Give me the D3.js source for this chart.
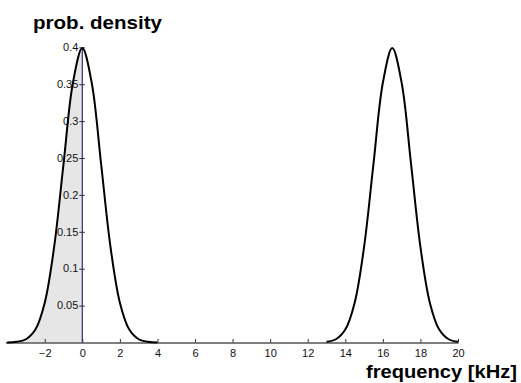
<!DOCTYPE html>
<html>
<head>
<meta charset="utf-8">
<script src="https://cdn.jsdelivr.net/npm/d3@7"></script>
<style>
  body { margin: 0; background: #fff; }
  text { font-family: "Liberation Sans", Arial, Helvetica, sans-serif; }
</style>
</head>
<body>
<div id="chart"></div>
<script>
const leftX = [-4, -3.5, -3, -2.5, -2, -1.5, -1, -0.5, 0, 0.5, 1, 1.5, 2, 2.5, 3, 3.5, 4];
const leftY = [0.0001, 0.0009, 0.0044, 0.0175, 0.054, 0.1295, 0.242, 0.352, 0.399,
  0.352, 0.242, 0.1295, 0.054, 0.0175, 0.0044, 0.0009, 0.0001];
const rightX = [13, 13.5, 14, 14.5, 15, 15.5, 16, 16.5, 17, 17.5, 18, 18.5, 19, 19.5, 20];
const rightY = [0.0009, 0.0044, 0.0175, 0.054, 0.1295, 0.242, 0.352, 0.399,
  0.352, 0.242, 0.1295, 0.054, 0.0175, 0.0044, 0.0009];
const shadeTo = 0;

const xTicks = [-2, 0, 2, 4, 6, 8, 10, 12, 14, 16, 18, 20];
const yTicks = [0.05, 0.1, 0.15, 0.2, 0.25, 0.3, 0.35, 0.4];
const yTickLabels = ["0.05", "0.1", "0.15", "0.2", "0.25", "0.3", "0.35", "0.4"];

const width = 521, height = 383;

const svg = d3.select("#chart").append("svg")
  .attr("width", width)
  .attr("height", height);

const x = d3.scaleLinear().domain([-4.1, 20]).range([5.3, 458]);
const y = d3.scaleLinear().domain([0, 0.4]).range([342.5, 47.3]);

const left = leftX.map((v, i) => ({ x: v, y: leftY[i] }));
const right = rightX.map((v, i) => ({ x: v, y: rightY[i] }));

// shaded area under the left curve
const area = d3.area()
  .x(d => x(d.x))
  .y0(y(0))
  .y1(d => y(d.y))
  .curve(d3.curveCatmullRom.alpha(0.5));

svg.append("path")
  .datum(left.filter(d => d.x <= shadeTo))
  .attr("d", area)
  .attr("fill", "#e6e6e6");

// the original text is a bit wider than normal, stretch it slightly
function widen(sel, k) {
  sel.each(function () {
    const w = this.getComputedTextLength();
    d3.select(this).attr("textLength", w * k).attr("lengthAdjust", "spacingAndGlyphs");
  });
}

// x axis
const xAxis = svg.append("g")
  .attr("transform", `translate(0,${y(0)})`)
  .call(d3.axisBottom(x).tickValues(xTicks).tickSize(0).tickPadding(7.5)
    .tickFormat(d3.format("d")));
xAxis.select(".domain").attr("stroke", "#555").attr("stroke-width", 1.5);
xAxis.selectAll(".tick text")
  .attr("font-size", 10)
  .attr("fill", "#111")
  .attr("font-family", "Liberation Sans, Arial, sans-serif")
  .call(widen, 1.1);
xAxis.selectAll(".tick line").remove();
xAxis.selectAll(".tick").append("line")
  .attr("y1", 0).attr("y2", -3.5)
  .attr("stroke", "#333");

// y axis sitting at x = 0
const yAxis = svg.append("g")
  .attr("transform", `translate(${x(0)},0)`)
  .call(d3.axisLeft(y).tickValues(yTicks).tickSize(3).tickPadding(1)
    .tickFormat((d, i) => yTickLabels[i]));
yAxis.select(".domain").remove();
yAxis.selectAll(".tick line").attr("x2", 2.5).attr("x1", -3).attr("stroke", "#333");
yAxis.selectAll(".tick text")
  .attr("font-size", 10)
  .attr("fill", "#111")
  .attr("font-family", "Liberation Sans, Arial, sans-serif")
  .call(widen, 1.1);

svg.append("line")
  .attr("x1", x(0)).attr("x2", x(0))
  .attr("y1", y(0)).attr("y2", y(0.4))
  .attr("stroke", "#2e2e66")
  .attr("stroke-width", 1.2);

// density curves
const line = d3.line()
  .x(d => x(d.x))
  .y(d => y(d.y))
  .curve(d3.curveCatmullRom.alpha(0.5));

[left, right].forEach(s => {
  svg.append("path")
    .datum(s)
    .attr("d", line)
    .attr("fill", "none")
    .attr("stroke", "#000")
    .attr("stroke-width", 2);
});

// titles
svg.append("text")
  .attr("x", 33)
  .attr("y", 29)
  .attr("font-size", 19)
  .attr("font-weight", "bold")
  .attr("textLength", 129)
  .attr("lengthAdjust", "spacingAndGlyphs")
  .text("prob. density");

svg.append("text")
  .attr("x", 517)
  .attr("y", 378)
  .attr("text-anchor", "end")
  .attr("font-size", 19)
  .attr("font-weight", "bold")
  .attr("textLength", 151)
  .attr("lengthAdjust", "spacingAndGlyphs")
  .text("frequency [kHz]");
</script>
</body>
</html>
